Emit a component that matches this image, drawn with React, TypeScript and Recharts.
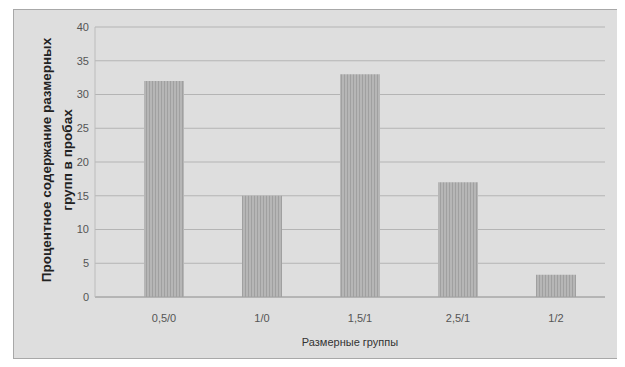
import React from 'react';
import { Bar, BarChart, CartesianGrid, Label, XAxis, YAxis } from 'recharts';

const groups = ['0,5/0', '1/0', '1,5/1', '2,5/1', '1/2'];
const shares = [32, 15, 33, 17, 3.3];
const yTicks = [0, 5, 10, 15, 20, 25, 30, 35, 40];

const data = groups.map((group, i) => ({ group, share: shares[i] }));

const font = '"Liberation Sans", Arial, sans-serif';

const YTitle = (props: any) => {
  const { viewBox } = props;
  const cy = viewBox.y + viewBox.height / 2 - 2;
  return (
    <g fontFamily={font} fontSize={13.5} fontWeight="bold" fill="#222">
      <text x={32} y={cy} textAnchor="middle" transform={`rotate(-90 32 ${cy})`} dominantBaseline="central">
        Процентное содержание размерных
      </text>
      <text x={53} y={cy} textAnchor="middle" transform={`rotate(-90 53 ${cy})`} dominantBaseline="central">
        групп в пробах
      </text>
    </g>
  );
};

const App: React.FC = () => {
  return (
    <div
      style={{
        marginLeft: 5,
        marginTop: 1,
        width: 606,
        height: 348,
        background: '#dedede',
        border: '1px solid #a8a8a8',
      }}
    >
      <svg width={0} height={0} style={{ position: 'absolute' }}>
        <defs>
          <pattern id="hatch" width="3" height="3" patternUnits="userSpaceOnUse">
            <rect width="3" height="3" fill="#b6b6b6" />
            <rect width="1" height="3" fill="#a0a0a0" />
          </pattern>
        </defs>
      </svg>
      <BarChart width={606} height={348} data={data} margin={{ top: 17, right: 15, left: 51, bottom: 0 }}>
        <CartesianGrid vertical={false} stroke="#b4b4b4" />
        <XAxis
          dataKey="group"
          height={61}
          padding={{ left: 20, right: 0 }}
          axisLine={{ stroke: '#a0a0a0' }}
          tickLine={false}
          tickMargin={11}
          tick={{ fill: '#555', fontSize: 11, fontFamily: font }}
        >
          <Label
            value="Размерные группы"
            position="insideBottom"
            offset={12}
            style={{ fill: '#333', fontSize: 11, fontFamily: font }}
          />
        </XAxis>
        <YAxis
          width={30}
          domain={[0, 40]}
          ticks={yTicks}
          axisLine={{ stroke: '#bcbcbc' }}
          tickLine={false}
          tickMargin={0}
          tick={{ fill: '#555', fontSize: 11, fontFamily: font }}
          label={{ content: YTitle }}
        />
        <Bar dataKey="share" fill="url(#hatch)" barSize={40} isAnimationActive={false} />
      </BarChart>
    </div>
  );
};

export default App;
